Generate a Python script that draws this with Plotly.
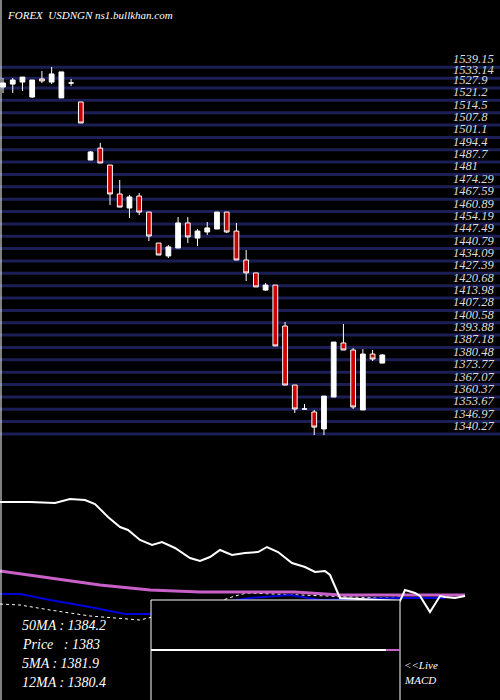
import plotly.graph_objects as go

# daily candles, USDNGN
opens = [1528.4, 1530.0, 1531.1, 1523.0, 1532.8, 1531.1, 1522.5, 1530.6, 1520.3, 1488.8,
         1495.3, 1486.1, 1470.4, 1462.8, 1469.3, 1460.6, 1443.8, 1436.8, 1441.1, 1454.7,
         1446.5, 1449.8, 1451.4, 1460.6, 1450.3, 1434.6, 1427.6, 1418.3, 1421.0, 1398.8,
         1366.8, 1353.8, 1352.2, 1343.0, 1360.3, 1389.6, 1385.8, 1353.3, 1383.6, 1378.7]
highs = [1533.3, 1533.3, 1533.8, 1532.2, 1537.1, 1539.3, 1536.6, 1532.8, 1520.3, 1493.7,
         1498.1, 1486.1, 1478.0, 1469.9, 1470.9, 1460.6, 1443.8, 1442.7, 1457.9, 1457.9,
         1451.4, 1455.2, 1460.6, 1460.6, 1454.7, 1440.0, 1427.6, 1422.1, 1421.0, 1401.0,
         1366.8, 1356.5, 1353.3, 1360.8, 1390.1, 1399.9, 1386.9, 1386.3, 1385.8, 1383.6]
lows = [1525.2, 1525.2, 1526.3, 1522.5, 1530.6, 1530.0, 1522.5, 1529.0, 1508.9, 1488.8,
        1487.2, 1464.4, 1463.3, 1457.4, 1459.0, 1444.9, 1437.3, 1435.7, 1441.1, 1443.8,
        1442.2, 1448.2, 1451.4, 1449.2, 1434.6, 1423.2, 1420.0, 1417.8, 1388.0, 1366.8,
        1351.6, 1353.8, 1339.7, 1339.7, 1360.3, 1385.8, 1353.8, 1353.3, 1379.8, 1378.7]
closes = [1530.6, 1532.2, 1533.8, 1532.2, 1531.7, 1535.5, 1536.6, 1530.6, 1508.9, 1493.2,
          1487.2, 1470.4, 1463.3, 1468.8, 1460.6, 1447.6, 1437.3, 1441.7, 1454.7, 1447.1,
          1450.3, 1452.0, 1460.6, 1449.8, 1434.6, 1427.6, 1420.0, 1421.0, 1388.0, 1366.8,
          1353.8, 1353.8, 1344.0, 1360.8, 1390.1, 1385.8, 1354.9, 1383.6, 1380.9, 1383.1]

price_ticks = [1539.15, 1533.14, 1527.9, 1521.2, 1514.5, 1507.8, 1501.1, 1494.4, 1487.7, 1481,
               1474.29, 1467.59, 1460.89, 1454.19, 1447.49, 1440.79, 1434.09, 1427.39, 1420.68,
               1413.98, 1407.28, 1400.58, 1393.88, 1387.18, 1380.48, 1373.77, 1367.07, 1360.37,
               1353.67, 1346.97, 1340.27]

# lower indicator panel (arbitrary oscillator units)
ind_x = [0, 30, 55, 70, 85, 95, 108, 120, 128, 140, 152, 162, 175, 190, 200, 210, 220, 232,
         245, 258, 267, 278, 292, 305, 315, 325, 330, 340, 400, 405, 415, 420, 430, 440, 445, 455, 465]
ind_white = [198, 198, 197, 201, 200, 196, 183, 173, 170, 160, 155, 158, 152, 142, 139, 143, 150, 145,
             147, 148, 153, 148, 137, 133, 128, 129, 125, 102, 99, 110, 107, 104, 88, 104, 103, 102, 104]
ma_x = [0, 50, 100, 150, 200, 250, 295, 340, 400, 465]
ma_magenta = [129, 122, 115, 110, 108, 108, 108, 105, 105, 105]
blue_x = [0, 20, 50, 90, 125, 150, 250, 290, 320, 400, 445]
ma_blue = [106, 106, 100, 93, 86, 86, 102, 105, 100, 102, 102]
dot_x = [0, 20, 50, 90, 140, 223, 235, 247, 380, 400]
ma_dot = [96, 95, 90, 84, 80, 100, 104, 107, 102, 103]

ma_labels = ["50MA : 1384.2", "Price   : 1383", "5MA : 1381.9", "12MA : 1380.4"]

serif = dict(family="Liberation Serif", color="white", style="italic")

fig = go.Figure()
fig.add_trace(go.Candlestick(
    x=list(range(len(opens))), open=opens, high=highs, low=lows, close=closes,
    increasing=dict(fillcolor="white", line=dict(color="white", width=1)),
    decreasing=dict(fillcolor="#cc0000", line=dict(color="white", width=1)),
    whiskerwidth=0, xaxis="x", yaxis="y", showlegend=False))

fig.add_trace(go.Scatter(x=dot_x, y=ma_dot, mode="lines", xaxis="x2", yaxis="y2",
                         line=dict(color="white", width=1, dash="dot"), showlegend=False))
fig.add_trace(go.Scatter(x=blue_x, y=ma_blue, mode="lines", xaxis="x2", yaxis="y2",
                         line=dict(color="#0000dd", width=2), showlegend=False))
fig.add_trace(go.Scatter(x=ma_x, y=ma_magenta, mode="lines", xaxis="x2", yaxis="y2",
                         line=dict(color="#c860c8", width=3), showlegend=False))
fig.add_trace(go.Scatter(x=ind_x, y=ind_white, mode="lines", xaxis="x2", yaxis="y2",
                         line=dict(color="white", width=2), showlegend=False))

shapes = []
for v in price_ticks:
    shapes.append(dict(type="line", xref="paper", yref="y", x0=0, x1=1, y0=v, y1=v,
                       line=dict(color="#1c1f55", width=3), layer="below"))
# left border
shapes.append(dict(type="line", xref="paper", yref="paper", x0=0.002, x1=0.002, y0=0, y1=1,
                   line=dict(color="white", width=1)))
# MACD box
shapes.append(dict(type="rect", xref="x2", yref="y2", x0=151, x1=400, y0=-5, y1=100,
                   fillcolor="black", line=dict(color="white", width=1), layer="above"))
shapes.append(dict(type="line", xref="x2", yref="y2", x0=151, x1=386, y0=50, y1=50,
                   line=dict(color="white", width=2), layer="above"))
shapes.append(dict(type="line", xref="x2", yref="y2", x0=386, x1=400, y0=50, y1=50,
                   line=dict(color="#c860c8", width=2), layer="above"))

annotations = []
for v in price_ticks:
    annotations.append(dict(x=0.902, y=v, xref="paper", yref="y", text=f"{v:g}",
                            xanchor="left", yanchor="middle", yshift=8, showarrow=False,
                            font=dict(serif, size=12.5, color="#dddddd")))
for i, t in enumerate(ma_labels):
    annotations.append(dict(x=20, y=75 - i * 19, xref="x2", yref="y2", text=t,
                            xanchor="left", yanchor="middle", showarrow=False,
                            font=dict(serif, size=14)))
annotations.append(dict(x=402, y=35, xref="x2", yref="y2", text="<<Live", xanchor="left",
                        showarrow=False, font=dict(serif, size=11)))
annotations.append(dict(x=402, y=20, xref="x2", yref="y2", text="MACD", xanchor="left",
                        showarrow=False, font=dict(serif, size=11)))
annotations.append(dict(x=0.01, y=0.99, xref="paper", yref="paper",
                        text="FOREX  USDNGN ns1.bullkhan.com", xanchor="left", showarrow=False,
                        font=dict(serif, size=11)))

fig.update_layout(
    width=500, height=700, margin=dict(l=0, r=0, t=0, b=0),
    paper_bgcolor="black", plot_bgcolor="black",
    xaxis=dict(range=[-0.31, 51.1], visible=False, rangeslider=dict(visible=False)),
    yaxis=dict(range=[1196.0, 1575.6], visible=False),
    xaxis2=dict(range=[0, 500], visible=False, overlaying="x"),
    yaxis2=dict(range=[0, 700], visible=False, overlaying="y"),
    shapes=shapes, annotations=annotations,
)

fig.write_html("out.html", config={"displayModeBar": False},
               post_script="document.body.style.margin='0';")
